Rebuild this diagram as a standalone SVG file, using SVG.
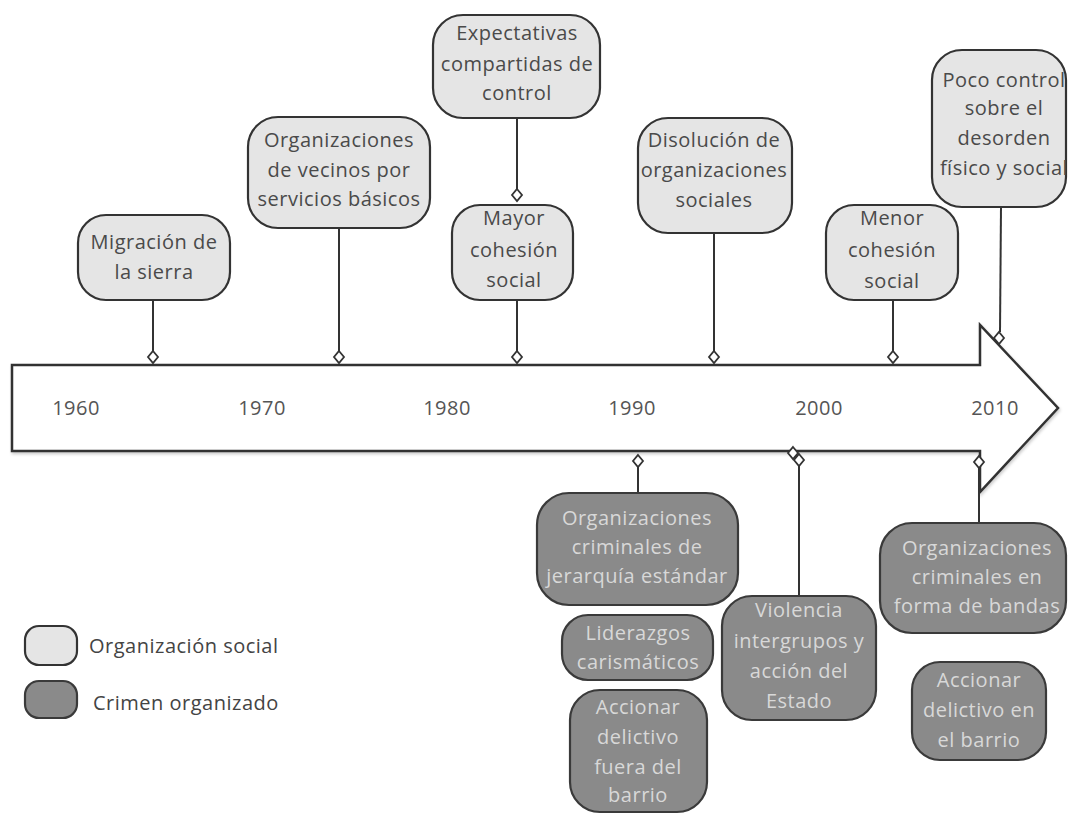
<svg xmlns="http://www.w3.org/2000/svg" width="1068" height="814" viewBox="0 0 1068 814">
<style>
.bg{fill:#ffffff}
.light{fill:#e5e5e5;stroke:#333;stroke-width:2.2}
.dark{fill:#8a8a8a;stroke:#3a3a3a;stroke-width:2.2}
.t{font-family:"Open Sans","Liberation Sans",sans-serif;font-size:20px;letter-spacing:0.5px;text-anchor:middle;fill:#4a4a4a}
.td{font-family:"Open Sans","Liberation Sans",sans-serif;font-size:20px;letter-spacing:0.5px;text-anchor:middle;fill:#d8d8d8}
.yr{font-family:"Open Sans","Liberation Sans",sans-serif;font-size:20px;letter-spacing:0.5px;text-anchor:middle;fill:#555}
.lg{font-family:"Open Sans","Liberation Sans",sans-serif;font-size:20px;letter-spacing:0.5px;fill:#444}
.c{stroke:#333;stroke-width:2;fill:none}
.dm{fill:#fff;stroke:#333;stroke-width:1.8}
.arrow{fill:#fff;stroke:#333;stroke-width:2.5;stroke-linejoin:miter}
</style>
<defs>
<path id="dia" d="M0,-6 L5,0 L0,6 L-5,0 Z"/>
<filter id="sh" x="-5%" y="-10%" width="110%" height="130%">
<feDropShadow dx="1" dy="2" stdDeviation="1.5" flood-color="#000" flood-opacity="0.2"/>
</filter>
<clipPath id="cp8"><rect x="537" y="493" width="201" height="112" rx="32"/></clipPath>
<clipPath id="cp7"><rect x="932" y="50" width="134" height="157" rx="30"/></clipPath>
<clipPath id="cp12"><rect x="880" y="523" width="186" height="110" rx="32"/></clipPath>
</defs>
<rect class="bg" x="0" y="0" width="1068" height="814"/>

<g id="timeline">
<path class="arrow" filter="url(#sh)" d="M12,365 L980,365 L980,325 L1058,408 L980,492 L980,451 L12,451 Z"/>
<text class="yr" x="76" y="415">1960</text>
<text class="yr" x="262" y="415">1970</text>
<text class="yr" x="447" y="415">1980</text>
<text class="yr" x="632" y="415">1990</text>
<text class="yr" x="819" y="415">2000</text>
<text class="yr" x="995" y="415">2010</text>
</g>

<g id="connectors">
<line class="c" x1="153" y1="300" x2="153" y2="351"/>
<line class="c" x1="339" y1="228" x2="339" y2="351"/>
<line class="c" x1="517" y1="118" x2="517" y2="189"/>
<line class="c" x1="517" y1="300" x2="517" y2="351"/>
<line class="c" x1="714" y1="233" x2="714" y2="351"/>
<line class="c" x1="893" y1="300" x2="893" y2="351"/>
<line class="c" x1="1001" y1="207" x2="1000" y2="332"/>
<line class="c" x1="638" y1="467" x2="638" y2="493"/>
<line class="c" x1="799" y1="466" x2="799" y2="596"/>
<line class="c" x1="979" y1="468" x2="979" y2="523"/>
<use href="#dia" class="dm" x="153" y="357"/>
<use href="#dia" class="dm" x="339" y="357"/>
<use href="#dia" class="dm" x="517" y="195"/>
<use href="#dia" class="dm" x="517" y="357"/>
<use href="#dia" class="dm" x="714" y="357"/>
<use href="#dia" class="dm" x="893" y="357"/>
<use href="#dia" class="dm" x="999" y="338"/>
<use href="#dia" class="dm" x="638" y="461"/>
<use href="#dia" class="dm" x="793" y="453"/>
<use href="#dia" class="dm" x="799" y="460"/>
<use href="#dia" class="dm" x="979" y="462"/>
</g>

<g id="n1">
<rect class="light" x="78" y="215" width="152" height="85" rx="28"/>
<text class="t" x="154" y="249">Migración de</text>
<text class="t" x="154" y="279">la sierra</text>
</g>
<g id="n2">
<rect class="light" x="248" y="117" width="182" height="111" rx="30"/>
<text class="t" x="339" y="147">Organizaciones</text>
<text class="t" x="339" y="177">de vecinos por</text>
<text class="t" x="339" y="206">servicios básicos</text>
</g>
<g id="n3">
<rect class="light" x="433" y="15" width="167" height="103" rx="30"/>
<text class="t" x="517" y="40">Expectativas</text>
<text class="t" x="517" y="71">compartidas de</text>
<text class="t" x="517" y="100">control</text>
</g>
<g id="n4">
<rect class="light" x="452" y="205" width="121" height="95" rx="28"/>
<text class="t" x="514" y="225">Mayor</text>
<text class="t" x="514" y="257">cohesión</text>
<text class="t" x="514" y="287">social</text>
</g>
<g id="n5">
<rect class="light" x="638" y="118" width="154" height="115" rx="30"/>
<text class="t" x="714" y="147">Disolución de</text>
<text class="t" x="714" y="177">organizaciones</text>
<text class="t" x="714" y="207">sociales</text>
</g>
<g id="n6">
<rect class="light" x="826" y="205" width="132" height="95" rx="28"/>
<text class="t" x="892" y="225">Menor</text>
<text class="t" x="892" y="257">cohesión</text>
<text class="t" x="892" y="288">social</text>
</g>
<g id="n7">
<rect class="light" x="932" y="50" width="134" height="157" rx="30"/>
<g clip-path="url(#cp7)">
<text class="t" x="1004" y="87">Poco control</text>
<text class="t" x="1004" y="115">sobre el</text>
<text class="t" x="1004" y="145">desorden</text>
<text class="t" x="1004" y="175">físico y social</text>
</g>
</g>

<g id="n8">
<rect class="dark" x="537" y="493" width="201" height="112" rx="32"/>
<g clip-path="url(#cp8)">
<text class="td" x="637" y="525">Organizaciones</text>
<text class="td" x="637" y="554">criminales de</text>
<text class="td" x="637" y="583">jerarquía estándar</text>
</g>
</g>
<g id="n9">
<rect class="dark" x="562" y="615" width="151" height="65" rx="26"/>
<text class="td" x="638" y="640">Liderazgos</text>
<text class="td" x="638" y="669">carismáticos</text>
</g>
<g id="n10">
<rect class="dark" x="570" y="690" width="137" height="122" rx="30"/>
<text class="td" x="638" y="714">Accionar</text>
<text class="td" x="638" y="744">delictivo</text>
<text class="td" x="638" y="774">fuera del</text>
<text class="td" x="638" y="802">barrio</text>
</g>
<g id="n11">
<rect class="dark" x="722" y="596" width="154" height="124" rx="30"/>
<text class="td" x="799" y="617">Violencia</text>
<text class="td" x="799" y="648">intergrupos y</text>
<text class="td" x="799" y="678">acción del</text>
<text class="td" x="799" y="708">Estado</text>
</g>
<g id="n12">
<rect class="dark" x="880" y="523" width="186" height="110" rx="32"/>
<g clip-path="url(#cp12)">
<text class="td" x="977" y="555">Organizaciones</text>
<text class="td" x="977" y="584">criminales en</text>
<text class="td" x="977" y="613">forma de bandas</text>
</g>
</g>
<g id="n13">
<rect class="dark" x="912" y="662" width="134" height="98" rx="28"/>
<text class="td" x="979" y="687">Accionar</text>
<text class="td" x="979" y="717">delictivo en</text>
<text class="td" x="979" y="747">el barrio</text>
</g>

<g id="legend">
<rect class="light" x="25" y="626" width="52" height="39" rx="14"/>
<text class="lg" x="89" y="653">Organización social</text>
<rect class="dark" x="25" y="681" width="52" height="37" rx="14"/>
<text class="lg" x="93" y="710">Crimen organizado</text>
</g>
</svg>
